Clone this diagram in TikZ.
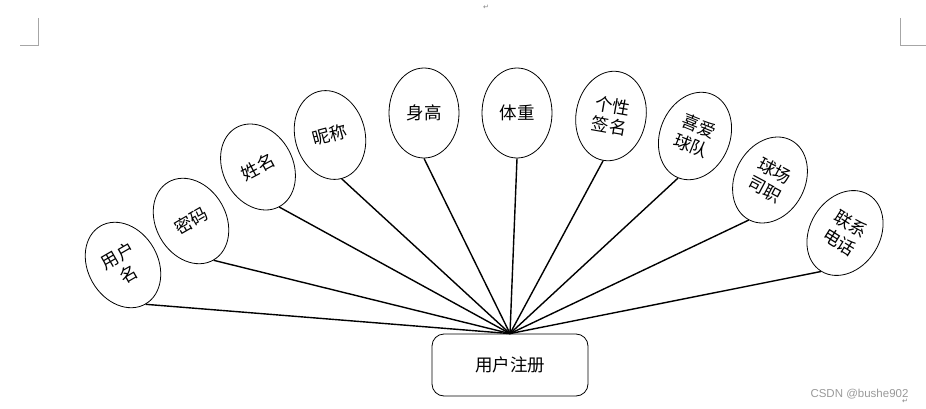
\documentclass[tikz,border=0pt]{standalone}
\usepackage{fontspec}
\newfontfamily\cjk{Noto Sans CJK SC}
\newfontfamily\dejavu{DejaVu Sans}
\newfontfamily\arialx{Liberation Sans}
\usetikzlibrary{shapes.geometric}
\begin{document}
\begin{tikzpicture}[x=1pt,y=-1pt,
  attr/.style={ellipse, draw, line width=0.8pt, minimum width=70pt, minimum height=90pt,
    inner sep=0pt, font=\cjk\fontsize{17.5}{21}\selectfont, align=center},
  regbox/.style={draw, rounded corners=12pt, line width=0.8pt, minimum width=156pt,
    minimum height=62pt, font=\cjk\fontsize{17.5}{21}\selectfont},
  conn/.style={line width=1.4pt},
  crop/.style={draw=gray!70, line width=0.8pt}]
\useasboundingbox (0,0) rectangle (926,409);
% page corner marks
\draw[crop] (38,18) -- (38,45) -- (20,45);
\draw[crop] (900,18) -- (900,45) -- (926,45);
\node[font=\dejavu\fontsize{7}{8}\selectfont, text=gray] (rm1) at (486,7) {↵};
% attributes
\node[attr, rotate=30] (a1) at (123,265) {用户\\名};
\node[attr, rotate=30] (a2) at (191,221) {密码};
\node[attr, rotate=28] (a3) at (258,167) {姓名};
\node[attr, rotate=15] (a4) at (330,135) {昵称};
\node[attr] (a5) at (424,113) {身高};
\node[attr] (a6) at (517,113) {体重};
\node[attr, rotate=-10] (a7) at (611,116) {个性\\签名};
\node[attr, rotate=-22] (a8) at (695,136) {喜爱\\球队};
\node[attr, rotate=-28] (a9) at (770,180) {球场\\司职};
\node[attr, rotate=-32] (a10) at (845,233) {联系\\电话};
% entity
\node[regbox] (reg) at (510,365) {用户注册};
\coordinate (hub) at (reg.north);
\foreach \i in {1,...,10} \draw[conn] (hub) -- (a\i.south);
% watermark
\node[font=\arialx\fontsize{11.5}{13}\selectfont, text=gray!80, anchor=east] (wm) at (912,394) {CSDN @bushe902};
\node[font=\dejavu\fontsize{7}{8}\selectfont, text=gray] (rm2) at (905,401) {↵};
\end{tikzpicture}
\end{document}
